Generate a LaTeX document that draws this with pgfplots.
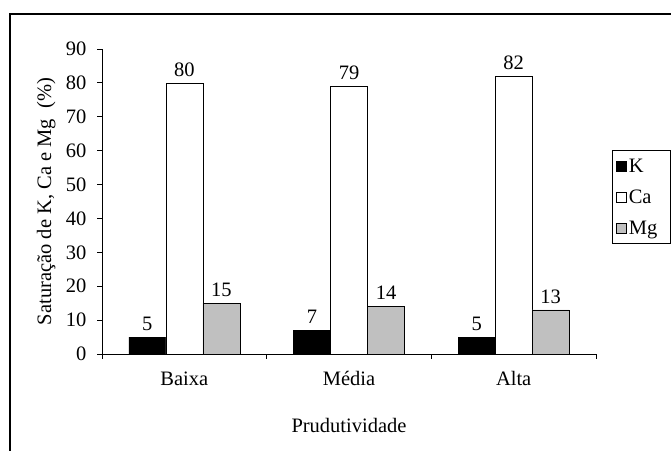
\documentclass[border=0pt]{standalone}
\usepackage{fontspec}
\setmainfont{Liberation Serif}
\usepackage{pgfplots}
\pgfplotsset{compat=1.18}
\newcommand{\fs}{\fontsize{20.5bp}{24bp}\selectfont}
\begin{document}
\begin{tikzpicture}[x=1bp,y=1bp]
\path[use as bounding box] (0,0) rectangle (671,451);
\draw[line width=1.6bp] (10,437) -- (671,437);
\draw[line width=1.2bp] (10,437.8) -- (10,0);
\begin{axis}[
  at={(102bp,97bp)}, anchor=south west,
  scale only axis, width=494bp, height=305bp,
  ybar=0pt, bar width=37bp,
  xmin=-0.5, xmax=2.5, ymin=0, ymax=90,
  axis x line=bottom, axis y line=left,
  axis line style={-, line width=0.8bp},
  xtick={-0.5,0.5,1.5,2.5}, xticklabels={},
  extra x ticks={0,1,2},
  extra x tick labels={Baixa,Média,Alta},
  extra x tick style={major tick length=0pt, tick label style={yshift=-14bp}},
  ytick={0,10,...,90},
  tick align=outside, major tick length=5bp,
  tick style={line width=0.8bp, black},
  /pgf/number format/assume math mode=true,
  tick label style={font=\fs},
  yticklabel style={xshift=-7bp},
  xlabel={Prudutividade},
  xlabel style={at={(axis description cs:0.5,-0.233)}, anchor=center},
  ylabel={Saturação de K, Ca e Mg\ \ (\%)},
  ylabel style={at={(axis description cs:-0.113,0.5)}, anchor=center},
  label style={font=\fs},
  nodes near coords,
  every node near coord/.append style={font=\fs, yshift=3bp},
  legend style={at={(1.032,0.668)}, anchor=north west, draw=black, line width=0.8bp,
    font=\fs, inner xsep=4bp, inner ysep=6bp,
    row sep=12bp, cells={anchor=west}},
  legend image code/.code={\draw[#1, line width=0.6bp] (0bp,-5bp) rectangle (10bp,5bp);},
  clip=false,
]
\addplot[fill=black, draw=black, line width=0.6bp] coordinates {(0,5) (1,7) (2,5)};
\addplot[fill=white, draw=black, line width=0.6bp] coordinates {(0,80) (1,79) (2,82)};
\addplot[fill={rgb,255:red,192;green,192;blue,192}, draw=black, line width=0.6bp] coordinates {(0,15) (1,14) (2,13)};
\legend{\makebox[36bp][l]{K},\makebox[36bp][l]{Ca},\makebox[36bp][l]{Mg}}
\end{axis}
\end{tikzpicture}
\end{document}
